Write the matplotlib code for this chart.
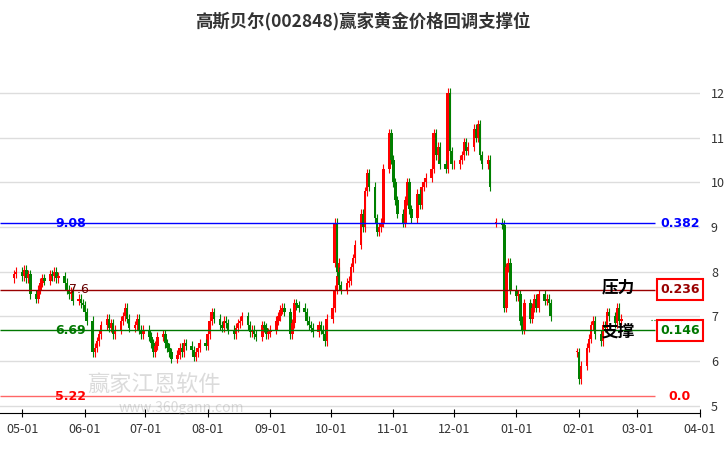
import numpy as np
import pandas as pd
import matplotlib
matplotlib.use("Agg")
from matplotlib import pyplot as plt
import matplotlib.dates as mdates

plt.rcParams['font.family'] = ['Noto Sans CJK SC', 'DejaVu Sans']

# segment start dates and closes (one value per trading day)
seg_starts = ['2023-04-27', '2023-10-03', '2023-12-22', '2024-01-31']
seg_open0 = [7.85, 8.2, 9.1, 6.2]
seg_closes = [
    # late Apr - Sep
    [7.95, 8.0, 7.9, 8.05, 7.85, 7.95, 7.5, 7.4, 7.6, 7.75, 7.85, 7.8, 7.95, 7.9, 8.0, 7.85, 7.9, 7.75, 7.6, 7.5, 7.55, 7.35, 7.4,
     7.3, 7.25, 7.1, 6.9, 6.2, 6.3, 6.45, 6.6, 6.8, 6.95, 6.75, 6.85, 6.6, 6.7, 6.9, 7.0, 7.2, 6.95, 6.75, 6.8, 6.95, 6.7, 6.6,
     6.7, 6.55, 6.4, 6.2, 6.35, 6.55, 6.6, 6.4, 6.3, 6.2, 6.05, 6.15, 6.3, 6.2, 6.4, 6.35, 6.25, 6.1, 6.2, 6.3, 6.4, 6.35,
     6.6, 6.9, 7.1, 6.95, 6.8, 6.75, 6.9, 6.85, 6.7, 6.6, 6.75, 6.85, 6.9, 7.0, 6.8, 6.65, 6.7, 6.6, 6.55, 6.8, 6.75, 6.6, 6.65,
     6.7, 6.9, 7.0, 7.15, 7.2, 7.1, 6.6, 6.85, 7.3, 7.25, 7.2, 7.1, 6.9, 6.8, 6.75, 6.65, 6.8, 6.7, 6.6, 6.45, 6.95, 7.2, 7.6, 7.9, 8.2],
    # Oct - Dec
    [9.1, 8.0, 7.7, 7.6, 7.75, 7.8, 8.1, 8.3, 8.6, 9.3, 9.0, 9.8, 10.2, 9.9, 9.2, 8.9, 9.0, 9.1,
     10.3, 11.1, 10.5, 10.0, 9.6, 9.3, 9.1, 9.6, 10.0, 9.4, 9.2, 9.75, 9.5, 9.9, 10.0, 10.1, 10.3, 11.1, 10.6, 10.8, 10.4, 10.3,
     12.0, 10.7, 10.4, 10.4, 10.5, 10.6, 10.9, 10.7, 10.8, 11.2, 11.0, 11.3, 10.6, 10.4, 10.5, 9.9],
    # late Dec - Jan
    [9.1, 9.05, 7.2, 8.1, 8.2, 7.6, 7.45, 7.5, 6.9, 6.7, 7.3, 6.95, 7.2, 7.4, 7.2, 7.5, 7.35, 7.4, 7.3, 7.0],
    # Feb
    [6.2, 5.6, 5.9, 6.3, 6.5, 6.8, 6.9, 6.6, 6.45, 6.8, 6.75, 7.1, 7.0, 6.85, 7.2, 6.9, 6.95],
]

fib_prices = [9.08, 7.6, 6.69, 5.22]
fib_ratios = ['0.382', '0.236', '0.146', '0.0']
fib_colors = ['#0000ff', '#990000', '#007700', '#ff6666']
tick_dates = ['2023-05-01', '2023-06-01', '2023-07-01', '2023-08-01', '2023-09-01', '2023-10-01',
              '2023-11-01', '2023-12-01', '2024-01-01', '2024-02-01', '2024-03-01', '2024-04-01']

fig = plt.figure(figsize=(7.26, 4.5), dpi=100)
ax = fig.add_axes([0.0, 0.082, 0.964, 0.807])

for start, o0, closes in zip(seg_starts, seg_open0, seg_closes):
    dates = pd.bdate_range(start, periods=len(closes))
    x = mdates.date2num(dates)
    opens = [o0] + closes[:-1]
    for xi, o, c in zip(x, opens, closes):
        col = '#ff0000' if c >= o else '#008000'
        lo, hi = min(o, c), max(o, c)
        ax.vlines(xi, lo - 0.1, hi + 0.1, color=col, lw=0.8)
        ax.bar(xi, max(hi - lo, 0.02), bottom=lo, width=1.3, color=col)

x0 = mdates.date2num(pd.Timestamp('2023-05-01'))
xr = x0 + 336
ax.set_xlim(x0 - 11, xr)
ax.set_ylim(4.84, 12.96)
xend = mdates.date2num(pd.Timestamp('2024-03-10'))
for p, r, c in zip(fib_prices, fib_ratios, fib_colors):
    ax.hlines(p, x0 - 11, xend, color=c, lw=1)
    ax.text(xend + 12, p, r, color='#ff0000' if r == '0.0' else ('#0000ff' if r == '0.382' else c),
            fontsize=9, fontweight='bold', va='center', ha='center',
            family='DejaVu Sans')
for p, c in zip([9.08, 6.69, 5.22], ['#0000ff', '#007700', '#ff0000']):
    ax.text(x0 + 24, p, f'{p:.2f}', color=c, fontsize=9, fontweight='bold', va='center', ha='center',
            family='DejaVu Sans')
ax.text(x0 + 28, 7.6, '7.6', color='#660000', fontsize=9, va='center', ha='center', family='DejaVu Sans')
for p in [7.6, 6.69]:
    ax.text(xend + 12, p, '              ', fontsize=9, va='center', ha='center',
            bbox=dict(boxstyle='square,pad=0.3', fc='none', ec='#ff0000', lw=1.5))
ax.text(xend - 10, 7.64, '压力', fontsize=12, fontweight='bold', ha='right', va='center')
ax.text(xend - 10, 6.67, '支撑', fontsize=12, fontweight='bold', ha='right', va='center')
ax.hlines(6.93, xend - 2, xr, color='#007700', lw=0.8, ls=':')
ax.text(x0 + 32, 5.45, '赢家江恩软件', fontsize=16, color='#999999', alpha=0.35, va='center')
ax.text(x0 + 48, 4.95, 'www.360gann.com', fontsize=10, color='#999999', alpha=0.35, va='center')

ax.set_yticks(range(5, 13))
ax.yaxis.tick_right()
ax.tick_params(axis='y', length=0, pad=8, labelsize=9, labelcolor='#333333')
ax.grid(axis='y', color='#dddddd', lw=1)
ax.set_xticks(mdates.date2num(pd.to_datetime(tick_dates)))
ax.set_xticklabels([d[5:7] + '-01' for d in tick_dates], fontsize=9, color='#333333')
ax.tick_params(axis='x', length=6, direction='inout', pad=4)
for s in ['top', 'left', 'right']:
    ax.spines[s].set_visible(False)
ax.set_axisbelow(True)

fig.suptitle('高斯贝尔(002848)赢家黄金价格回调支撑位', y=0.975, fontsize=12.5, fontweight='bold', color='#333333')
fig.savefig('out.png', dpi=100)
